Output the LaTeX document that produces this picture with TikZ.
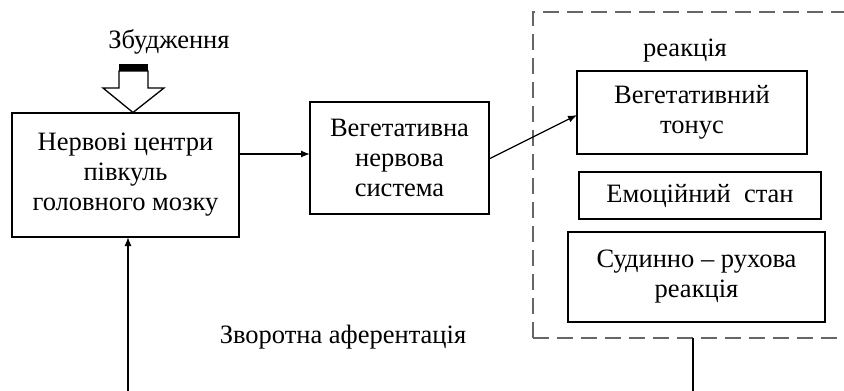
\documentclass[tikz,border=0pt]{standalone}
\usepackage{fontspec}
\setmainfont{Liberation Serif}
\usetikzlibrary{arrows.meta,positioning}
\begin{document}
\begin{tikzpicture}[x=1pt,y=-1pt,
  every node/.style={inner sep=0pt, outer sep=0pt},
  txt/.style={font=\fontsize{26.5}{30}\selectfont, align=center},
  boxx/.style={draw=black, line width=1.4pt, txt},
  arr/.style={line width=1.3pt, -{Latex[length=9pt,width=7pt]}},
  plain/.style={line width=1.3pt},
  frame/.style={draw=black!60, line width=1.6pt, dash pattern=on 16pt off 8pt}]
\useasboundingbox (0,0) rectangle (844,391);
\clip (0,0) rectangle (844,391);

% boxes
\node[boxx, minimum width=227pt, minimum height=124pt, anchor=north west] (b1) at (12,113) {Нервові центри\\півкуль\\головного мозку};

\node[boxx, minimum width=179pt, minimum height=112pt, anchor=north west] (b2) at (310,102) {Вегетативна\\нервова\\система};

\node[frame, minimum width=330pt, minimum height=326pt, anchor=north west] (frame) at (533,12) {};
\node[txt, anchor=base] (reak) at (685,56) {реакція};

\node[boxx, minimum width=230pt, minimum height=83pt, anchor=north west] (ton) at (577,71) {Вегетативний\\тонус};

\node[boxx, minimum width=242pt, minimum height=47pt, anchor=north west] (emo) at (579,172) {Емоційний \ стан};

\node[boxx, minimum width=257pt, minimum height=90pt, anchor=north west] (sud) at (568,232) {Судинно – рухова\\реакція};

% labels
\node[txt, anchor=base] (zb) at (169,48) {Збудження};
\node[txt, anchor=base] (zv) at (343,343) {Зворотна аферентація};

% hollow input arrow
\fill[black] (119,64) rectangle (148,71);
\draw[line width=1.3pt, fill=white, line join=miter] (119,71) -- (148,71) -- (148,88) -- (164,88) -- (133,112.5) -- (103,88) -- (119,88) -- cycle;

% connectors
\draw[arr] (b1.east |- 0,154) -- (b2.west |- 0,154);
\draw[arr] (b2.east |- 0,159) -- (ton.west |- 0,115);

\coordinate (fb) at (128,392);
\draw[arr] (fb) -- (fb |- b1.south);
\coordinate (re) at (693,392);
\draw[plain] (re |- frame.south) -- (re);
\end{tikzpicture}
\end{document}
